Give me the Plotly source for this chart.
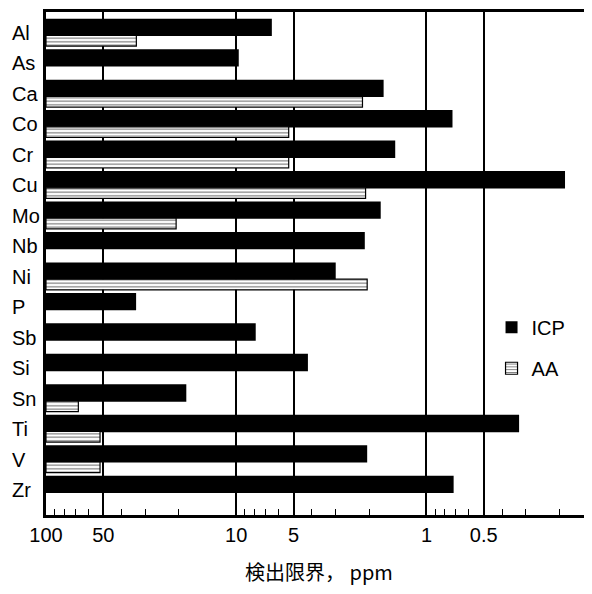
import plotly.graph_objects as go

elements = ["Al", "As", "Ca", "Co", "Cr", "Cu", "Mo", "Nb", "Ni", "P", "Sb", "Si", "Sn", "Ti", "V", "Zr"]
icp_limit = [6.5, 9.7, 1.68, 0.73, 1.46, 0.187, 1.74, 2.11, 3.0, 33.6, 7.9, 4.2, 18.3, 0.326, 2.05, 0.72]
aa_limit = [33.5, None, 2.17, 5.3, 5.3, 2.09, 20.7, None, 2.05, None, None, None, 67.6, 52, 52, None]
tick_vals = [100, 50, 10, 5, 1, 0.5]
tick_text = ["100", "50", "10", "5", "1", "0.5"]
minor_vals = [90, 80, 70, 60, 40, 30, 20, 9, 8, 7, 6, 4, 3, 2, 0.9, 0.8, 0.7, 0.6, 0.4, 0.3, 0.2]
axis_base = 100

FONT = "Liberation Sans, Arial, sans-serif"
CJK = "Noto Sans CJK JP, sans-serif"

def lengths(vals):
    return [None if v is None else v - axis_base for v in vals]

fig = go.Figure()
fig.add_trace(go.Bar(
    name="ICP", y=elements, x=lengths(icp_limit), base=axis_base, orientation="h",
    marker=dict(color="black", line=dict(width=0)),
    width=0.57, offset=-0.47, legendgroup="icp",
))
fig.add_trace(go.Bar(
    name="AA", y=elements, x=lengths(aa_limit), base=axis_base, orientation="h",
    marker=dict(color="white", line=dict(color="black", width=1.2),
                pattern=dict(shape="-", fgcolor="black", bgcolor="white", size=3.5, solidity=0.35)),
    width=0.35, offset=0.08, legendgroup="aa",
))

# Row labels (left aligned)
for el in elements:
    fig.add_annotation(x=0, xref="paper", y=el, yref="y", text=el, showarrow=False,
                       xanchor="left", xshift=-36, yanchor="middle",
                       font=dict(family=FONT, size=20, color="black"))

# 600 ppm note
fig.add_annotation(x=23.8, y=11.33, xref="x", yref="y", ax=40, ay=0, text="",
                   showarrow=True, arrowhead=2, arrowsize=1, arrowwidth=1.5, arrowcolor="black")
fig.add_annotation(x=20.5, y=11.42, xref="x", yref="y", text="600 ppm", showarrow=False,
                   xanchor="left", yanchor="middle", font=dict(family=FONT, size=20, color="black"))

fig.update_xaxes(
    type="log", range=[2.0, -0.87], automargin=False,
    tickmode="array", tickvals=tick_vals, ticktext=tick_text, ticks="",
    showgrid=True, gridcolor="black", gridwidth=1.5,
    showline=True, linecolor="black", linewidth=2.5, mirror=True,
    minor=dict(tickvals=minor_vals, ticks="inside", ticklen=6, tickwidth=1, tickcolor="black", showgrid=False),
    tickfont=dict(family=FONT, size=20, color="black"),
    title=dict(text="検出限界， ppm", font=dict(family=CJK, size=20, color="black"), standoff=24),
    zeroline=False,
)
fig.update_yaxes(
    range=[15.82, -0.69], showticklabels=False, ticks="", showgrid=False, automargin=False,
    showline=True, linecolor="black", linewidth=2.5, mirror=False, zeroline=False,
)

fig.update_layout(
    width=584, height=578,
    margin=dict(l=38, r=0, t=4, b=71, autoexpand=False),
    barmode="overlay",
    plot_bgcolor="white", paper_bgcolor="white",
    showlegend=True,
    legend=dict(x=0.816, y=0.412, xanchor="left", yanchor="top", bgcolor="rgba(0,0,0,0)",
                font=dict(family=FONT, size=20, color="black"), tracegroupgap=12,
                itemwidth=30),
)

fig.write_html("out.html")
